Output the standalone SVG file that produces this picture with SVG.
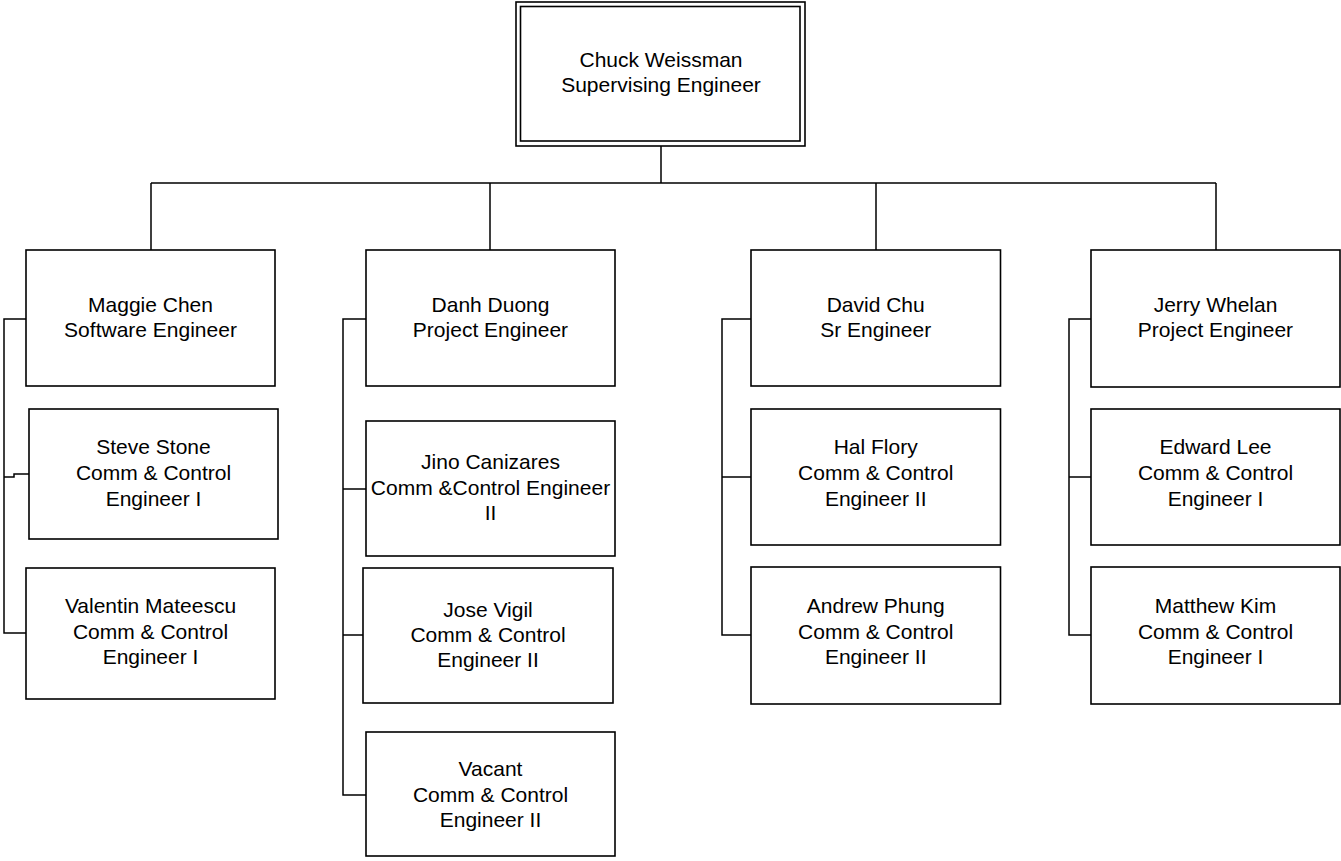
<svg xmlns="http://www.w3.org/2000/svg" width="1341" height="861" viewBox="0 0 1341 861">
<style>
rect.b{fill:#fff;stroke:#000;stroke-width:1.6}
.c path{fill:none;stroke:#000;stroke-width:1.5}
text{font-family:"Liberation Sans",Arial,sans-serif;font-size:21px;fill:#000;text-anchor:middle}
</style>
<rect width="1341" height="861" fill="#fff"/>
<g class="c" id="connectors">
<path d="M661 146V183M151 183H1216M151 183V250M490 183V250M876 183V250M1216 183V250"/>
<path d="M26 319H4V633H26M4 477H14V474H29"/>
<path d="M366 319H343V795H366M343 489H366M343 635H363"/>
<path d="M751 319H722V635H751M722 477H751"/>
<path d="M1091 319H1069V635H1091M1069 477H1091"/>
</g>
<g id="chuck">
<rect class="b" x="516" y="2" width="289" height="144"/>
<rect class="b" x="520.5" y="6.5" width="279.5" height="134.5"/>
<text x="661" y="67">Chuck Weissman</text>
<text x="661" y="92">Supervising Engineer</text>
</g>
<g id="maggie">
<rect class="b" x="26" y="250" width="249" height="136"/>
<text x="150.5" y="312">Maggie Chen</text>
<text x="150.5" y="337">Software Engineer</text>
</g>
<g id="steve">
<rect class="b" x="29" y="409" width="249" height="130"/>
<text x="153.5" y="454">Steve Stone</text>
<text x="153.5" y="480">Comm &amp; Control</text>
<text x="153.5" y="506">Engineer I</text>
</g>
<g id="valentin">
<rect class="b" x="26" y="568" width="249" height="131"/>
<text x="150.5" y="613">Valentin Mateescu</text>
<text x="150.5" y="639">Comm &amp; Control</text>
<text x="150.5" y="664">Engineer I</text>
</g>
<g id="danh">
<rect class="b" x="366" y="250" width="249" height="136"/>
<text x="490.5" y="312">Danh Duong</text>
<text x="490.5" y="337">Project Engineer</text>
</g>
<g id="jino">
<rect class="b" x="366" y="421" width="249" height="135"/>
<text x="490.5" y="469">Jino Canizares</text>
<text x="490.5" y="495">Comm &amp;Control Engineer</text>
<text x="490.5" y="520">II</text>
</g>
<g id="jose">
<rect class="b" x="363" y="568" width="250" height="135"/>
<text x="488" y="617">Jose Vigil</text>
<text x="488" y="642">Comm &amp; Control</text>
<text x="488" y="667">Engineer II</text>
</g>
<g id="vacant">
<rect class="b" x="366" y="732" width="249" height="124"/>
<text x="490.5" y="776">Vacant</text>
<text x="490.5" y="802">Comm &amp; Control</text>
<text x="490.5" y="827">Engineer II</text>
</g>
<g id="david">
<rect class="b" x="751" y="250" width="249.5" height="136"/>
<text x="875.7" y="312">David Chu</text>
<text x="875.7" y="337">Sr Engineer</text>
</g>
<g id="hal">
<rect class="b" x="751" y="409" width="249.5" height="136"/>
<text x="875.7" y="454">Hal Flory</text>
<text x="875.7" y="480">Comm &amp; Control</text>
<text x="875.7" y="506">Engineer II</text>
</g>
<g id="andrew">
<rect class="b" x="751" y="567" width="249.5" height="137"/>
<text x="875.7" y="613">Andrew Phung</text>
<text x="875.7" y="639">Comm &amp; Control</text>
<text x="875.7" y="664">Engineer II</text>
</g>
<g id="jerry">
<rect class="b" x="1091" y="250" width="249" height="137"/>
<text x="1215.5" y="312">Jerry Whelan</text>
<text x="1215.5" y="337">Project Engineer</text>
</g>
<g id="edward">
<rect class="b" x="1091" y="409" width="249" height="136"/>
<text x="1215.5" y="454">Edward Lee</text>
<text x="1215.5" y="480">Comm &amp; Control</text>
<text x="1215.5" y="506">Engineer I</text>
</g>
<g id="matthew">
<rect class="b" x="1091" y="567" width="249" height="137"/>
<text x="1215.5" y="613">Matthew Kim</text>
<text x="1215.5" y="639">Comm &amp; Control</text>
<text x="1215.5" y="664">Engineer I</text>
</g>
</svg>
